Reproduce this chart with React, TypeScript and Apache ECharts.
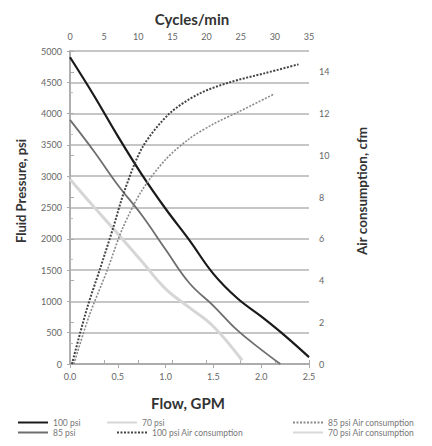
import React, { useEffect, useRef } from "react";
import * as echarts from "echarts";

const flow100 = [0, 0.25, 0.5, 0.75, 1.0, 1.25, 1.5, 1.75, 2.0, 2.25, 2.5];
const psi100 = [4900, 4290, 3640, 3030, 2480, 1975, 1440, 1050, 760, 450, 110];
const flow85 = [0, 0.25, 0.5, 0.75, 1.0, 1.25, 1.5, 1.75, 2.0, 2.2];
const psi85 = [3900, 3400, 2860, 2380, 1830, 1290, 930, 540, 230, 0];
const flow70 = [0, 0.25, 0.5, 0.75, 1.0, 1.25, 1.5, 1.8];
const psi70 = [2950, 2510, 2080, 1640, 1200, 900, 600, 60];
const flowAir100 = [0.02, 0.18, 0.31, 0.45, 0.57, 0.76, 1.04, 1.35, 1.67, 2.05, 2.39];
const air100 = [0, 2.7, 4.5, 6.5, 8.3, 10.4, 12.0, 12.95, 13.5, 13.95, 14.36];
const flowAir85 = [0.04, 0.2, 0.39, 0.55, 0.75, 1.0, 1.25, 1.5, 1.77, 2.14];
const air85 = [0, 2.3, 4.5, 6.5, 8.3, 9.8, 10.8, 11.5, 12.1, 12.95];
const flowAir70: number[] = [];
const air70: number[] = [];

const seriesNames = [
  "100 psi",
  "85 psi",
  "70 psi",
  "100 psi Air consumption",
  "85 psi Air consumption",
  "70 psi Air consumption",
];

const pairs = (xs: number[], ys: number[]) => xs.map((x, i) => [x, ys[i]]);

const FONT = "Lato, 'Open Sans', sans-serif";

export default function App() {
  const ref = useRef<HTMLDivElement>(null);
  useEffect(() => {
    if (!ref.current) return;
    const chart = echarts.init(ref.current, null, { renderer: "svg" });
    const labelStyle = { color: "#666", fontSize: 9, fontFamily: FONT };
    const legendPos = [
      { left: 17, top: 418 },
      { left: 17, top: 428 },
      { left: 106, top: 418 },
      { left: 116, top: 428 },
      { left: 292, top: 418 },
      { left: 292, top: 428 },
    ];
    chart.setOption({
      animation: false,
      backgroundColor: "#fff",
      grid: { left: 70, right: 123, top: 51, bottom: 82, containLabel: false },
      legend: seriesNames.map((n, i) => ({
        data: [n],
        left: legendPos[i].left,
        top: legendPos[i].top,
        itemWidth: 30,
        itemHeight: 6,
        itemGap: 4,
        padding: 0,
        itemStyle: { opacity: 0 },
        textStyle: { color: "#777", fontSize: 8.5, fontFamily: FONT },
        selectedMode: false,
      })),
      xAxis: [
        {
          type: "value",
          position: "bottom",
          min: 0,
          max: 2.5,
          interval: 0.5,
          axisLine: { show: true, lineStyle: { color: "#aaa", width: 1.5 } },
          axisTick: { show: true, length: 4, lineStyle: { color: "#aaa" } },
          axisLabel: { ...labelStyle, margin: 8, formatter: (v: number) => v.toFixed(1) },
          splitLine: { show: false },
        },
        {
          type: "value",
          position: "top",
          min: 0,
          max: 35,
          interval: 5,
          axisLine: { show: true, lineStyle: { color: "#aaa", width: 1.5 } },
          axisTick: { show: true, length: 4, lineStyle: { color: "#aaa" } },
          axisLabel: { ...labelStyle, margin: 10, formatter: (v: number) => String(v) },
          splitLine: { show: false },
        },
      ],
      yAxis: [
        {
          type: "value",
          position: "left",
          min: 0,
          max: 5000,
          interval: 500,
          axisLine: { show: true, lineStyle: { color: "#aaa", width: 1.5 } },
          axisTick: { show: true, length: 3, lineStyle: { color: "#aaa" } },
          axisLabel: { ...labelStyle, margin: 8, formatter: (v: number) => String(v) },
          splitLine: { show: true, lineStyle: { color: "#b3b3b3", width: 1.5 } },
        },
        {
          type: "value",
          position: "right",
          min: 0,
          max: 15,
          interval: 2,
          axisLine: { show: true, lineStyle: { color: "#aaa", width: 1.5 } },
          axisTick: { show: true, length: 4, lineStyle: { color: "#aaa" } },
          minorTick: { show: true, splitNumber: 2, length: 3, lineStyle: { color: "#bbb" } },
          axisLabel: { ...labelStyle, margin: 10, showMaxLabel: false, formatter: (v: number) => String(v) },
          splitLine: { show: false },
        },
      ],
      graphic: [
        {
          type: "text",
          x: 192,
          y: 19,
          style: { text: "Cycles/min", font: `bold 15px ${FONT}`, fill: "#333", align: "center", verticalAlign: "middle" },
        },
        {
          type: "text",
          x: 188,
          y: 403,
          style: { text: "Flow, GPM", font: `bold 15px ${FONT}`, fill: "#333", align: "center", verticalAlign: "middle" },
        },
        {
          type: "text",
          x: 21,
          y: 191,
          rotation: Math.PI / 2,
          style: { text: "Fluid Pressure, psi", font: `bold 13px ${FONT}`, fill: "#333", align: "center", verticalAlign: "middle" },
        },
        {
          type: "text",
          x: 362,
          y: 191,
          rotation: Math.PI / 2,
          style: { text: "Air consumption, cfm", font: `bold 13.5px ${FONT}`, fill: "#333", align: "center", verticalAlign: "middle" },
        },
      ],
      series: [
        {
          name: seriesNames[0],
          type: "line",
          xAxisIndex: 0,
          yAxisIndex: 0,
          data: pairs(flow100, psi100),
          smooth: 0.4,
          symbol: "none",
          lineStyle: { color: "#1a1a1a", width: 2.2 },
          itemStyle: { color: "#1a1a1a" },
        },
        {
          name: seriesNames[1],
          type: "line",
          xAxisIndex: 0,
          yAxisIndex: 0,
          data: pairs(flow85, psi85),
          smooth: 0.4,
          symbol: "none",
          lineStyle: { color: "#6e6e6e", width: 1.8 },
          itemStyle: { color: "#6e6e6e" },
        },
        {
          name: seriesNames[2],
          type: "line",
          xAxisIndex: 0,
          yAxisIndex: 0,
          data: pairs(flow70, psi70),
          smooth: 0.4,
          symbol: "none",
          lineStyle: { color: "#d6d6d6", width: 3 },
          itemStyle: { color: "#d6d6d6" },
        },
        {
          name: seriesNames[3],
          type: "line",
          xAxisIndex: 0,
          yAxisIndex: 1,
          data: pairs(flowAir100, air100),
          smooth: 0.3,
          symbol: "none",
          lineStyle: { color: "#444", width: 2, type: [2, 1.5] },
          itemStyle: { color: "#444" },
        },
        {
          name: seriesNames[4],
          type: "line",
          xAxisIndex: 0,
          yAxisIndex: 1,
          data: pairs(flowAir85, air85),
          smooth: 0.3,
          symbol: "none",
          lineStyle: { color: "#8a8a8a", width: 1.6, type: [2, 1.5] },
          itemStyle: { color: "#8a8a8a" },
        },
        {
          name: seriesNames[5],
          type: "line",
          xAxisIndex: 0,
          yAxisIndex: 1,
          data: pairs(flowAir70, air70),
          smooth: 0.3,
          symbol: "none",
          lineStyle: { color: "#d8d8d8", width: 3.5 },
          itemStyle: { color: "#d8d8d8" },
        },
      ],
    });
    return () => chart.dispose();
  }, []);
  return (
    <div
      ref={ref}
      style={{ position: "fixed", left: 0, top: 0, width: 432, height: 446, background: "#fff" }}
    />
  );
}
